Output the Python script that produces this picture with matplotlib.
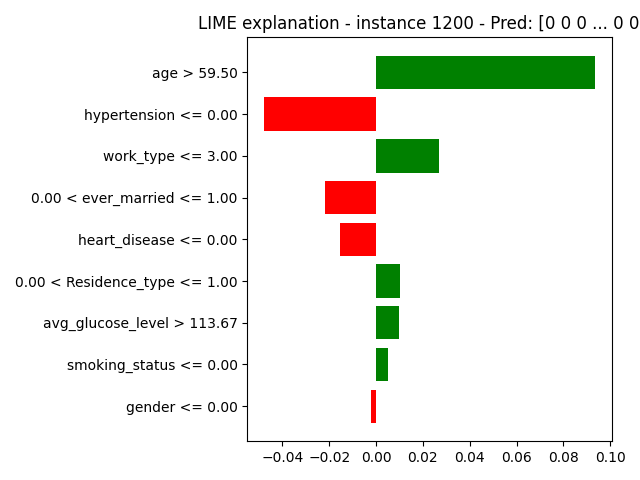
import matplotlib
matplotlib.use("Agg")
import matplotlib.pyplot as plt

features = [
    "age > 59.50",
    "hypertension <= 0.00",
    "work_type <= 3.00",
    "0.00 < ever_married <= 1.00",
    "heart_disease <= 0.00",
    "0.00 < Residence_type <= 1.00",
    "avg_glucose_level > 113.67",
    "smoking_status <= 0.00",
    "gender <= 0.00",
]
weights = [0.0936, -0.0479, 0.0269, -0.0218, -0.0154, 0.0103, 0.0098, 0.0051, -0.0021]

# LIME draws bottom-up
names = features[::-1]
vals = weights[::-1]
colors = ["green" if v > 0 else "red" for v in vals]
pos = list(range(len(vals)))

fig = plt.figure(figsize=(6.4, 4.8), dpi=100)
plt.barh(pos, vals, align="center", color=colors)
plt.yticks(pos, names)
plt.title("LIME explanation - instance 1200 - Pred: [0 0 0 ... 0 0 0]")
plt.tight_layout()
plt.savefig("out.png")
